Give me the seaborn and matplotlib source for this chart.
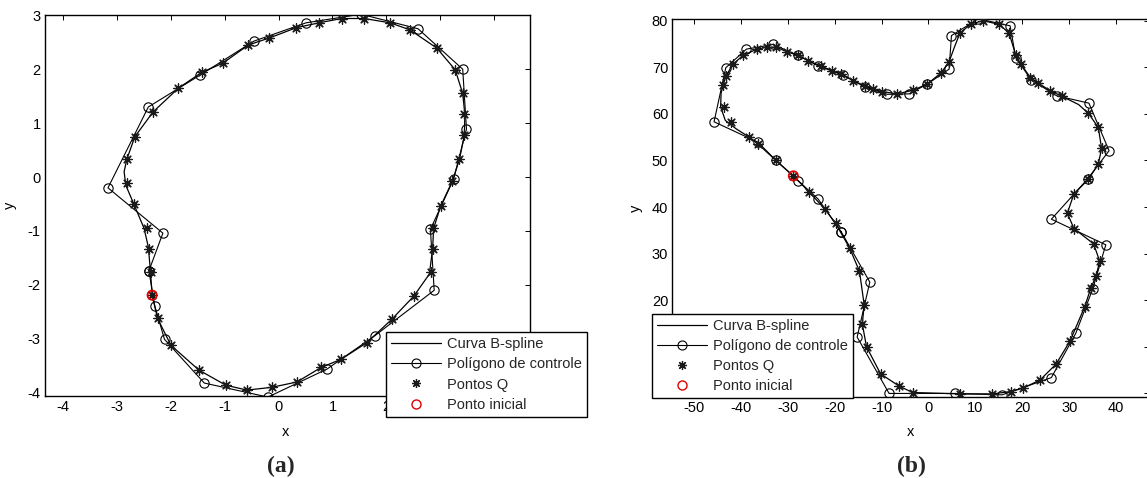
import numpy as np
import pandas as pd
import matplotlib
matplotlib.use("Agg")
import matplotlib.pyplot as plt
from matplotlib.lines import Line2D
import seaborn as sns

# ---------------- data: panel (a) ----------------
a_ctrl_x = [-2.41, -2.15, -3.17, -2.42, -1.46, -0.46, 0.51, 1.53, 2.59, 3.42, 3.49, 3.25,
            2.82, 2.89, 1.79, 0.90, -0.20, -1.38, -2.12, -2.30]
a_ctrl_y = [-1.74, -1.04, -0.20, 1.30, 1.89, 2.52, 2.86, 3.02, 2.75, 2.00, 0.89, -0.04,
            -0.97, -2.10, -2.94, -3.56, -4.08, -3.82, -3.01, -2.39]

a_q_x = [-2.35, -2.38, -2.40, -2.44, -2.69, -2.82, -2.82, -2.67, -2.33, -1.86, -1.43, -1.04,
         -0.56, -0.17, 0.33, 0.75, 1.17, 1.59, 2.07, 2.44, 2.94, 3.28, 3.42, 3.45, 3.45,
         3.36, 3.23, 3.01, 2.87, 2.87, 2.83, 2.51, 2.10, 1.64, 1.16, 0.79, 0.34, -0.13,
         -0.59, -0.98, -1.48, -2.00, -2.25]
a_q_y = [-2.19, -1.76, -1.34, -0.95, -0.50, -0.11, 0.33, 0.75, 1.21, 1.65, 1.94, 2.11,
         2.45, 2.58, 2.77, 2.86, 2.94, 2.94, 2.86, 2.73, 2.39, 1.99, 1.55, 1.16, 0.78,
         0.33, -0.07, -0.54, -0.95, -1.34, -1.76, -2.21, -2.64, -3.07, -3.38, -3.53,
         -3.80, -3.90, -3.95, -3.86, -3.58, -3.12, -2.62]

a_curve_x = [-2.35, -2.38, -2.42, -2.50, -2.69, -2.84, -2.87, -2.82, -2.67, -2.33, -1.86,
             -1.43, -1.04, -0.56, -0.17, 0.33, 0.75, 1.17, 1.59, 2.07, 2.44, 2.94, 3.28,
             3.42, 3.46, 3.45, 3.36, 3.23, 3.01, 2.88, 2.86, 2.80, 2.51, 2.10, 1.64, 1.16,
             0.79, 0.34, -0.13, -0.59, -0.98, -1.48, -2.00, -2.25, -2.35]
a_curve_y = [-2.19, -1.76, -1.30, -0.95, -0.50, -0.15, 0.10, 0.33, 0.75, 1.21, 1.65, 1.94,
             2.11, 2.45, 2.58, 2.77, 2.86, 2.94, 2.94, 2.86, 2.73, 2.39, 1.99, 1.55, 1.16,
             0.78, 0.33, -0.07, -0.54, -0.95, -1.34, -1.80, -2.21, -2.64, -3.07, -3.38,
             -3.53, -3.80, -3.90, -3.95, -3.86, -3.58, -3.12, -2.62, -2.19]

a_start_x = [-2.35]
a_start_y = [-2.19]

# ---------------- data: panel (b) ----------------
b_ctrl_x = [-18.6, -23.5, -27.8, -32.5, -36.3, -45.7, -43.2, -38.8, -33.1, -27.9, -23.5,
            -18.2, -13.6, -8.8, -4.1, -0.25, 4.4, 4.9, 10.6, 17.4, 18.6, 21.9, 27.3, 34.2,
            38.5, 33.9, 26.2, 37.8, 35.0, 31.4, 26.2, 15.7, 5.6, -8.4, -15.2, -12.5]
b_ctrl_y = [34.7, 41.7, 45.7, 50.0, 53.9, 58.3, 69.9, 73.9, 74.9, 72.6, 70.3,
            68.3, 65.8, 64.2, 64.3, 66.4, 69.6, 76.8, 80.4, 78.9, 72.1, 67.3, 63.9, 62.3,
            52.1, 46.0, 37.4, 31.9, 22.4, 12.9, 3.4, -0.3, 0.0, 0.0, 12.1, 23.9]

b_q_x = [-28.8, -32.5, -36.3, -38.2, -42.1, -43.6, -43.75, -43.2, -41.7, -39.5, -36.5,
         -34.5, -32.4, -30.1, -27.9, -25.6, -23.0, -20.6, -18.55, -16.0, -13.5, -11.8,
         -10.0, -6.6, -3.2, -0.25, 2.7, 4.4, 6.7, 9.0, 11.7, 15.1, 17.2, 18.6, 19.7, 21.7,
         23.4, 25.9, 28.4, 34.1, 36.2, 36.9, 36.2, 34.1, 31.0, 29.8, 31.0, 35.2, 36.5,
         35.7, 34.6, 33.3, 30.2, 27.2, 23.8, 20.1, 17.5, 13.6, 6.7, -3.4, -6.3, -10.2,
         -13.2, -14.1, -13.7, -14.7, -16.8, -19.8, -22.1, -25.4]
b_q_y = [46.7, 50.0, 53.5, 55.0, 58.3, 61.4, 66.2, 68.1, 70.6, 72.6, 73.9,
         74.3, 74.3, 73.3, 72.6, 71.4, 70.3, 69.3, 68.6, 67.1, 66.0, 65.3,
         64.8, 64.3, 65.1, 66.4, 68.8, 71.2, 77.3, 79.3, 80.0, 79.2, 77.3, 72.6, 70.7, 67.8,
         66.6, 65.0, 63.8, 60.1, 57.1, 52.6, 49.2, 46.0, 42.8, 38.7, 35.4, 32.1, 28.4,
         25.1, 22.6, 18.6, 11.3, 6.3, 2.9, 1.1, 0.4, -0.1, -0.1, 0.2, 1.6, 4.2,
         10.0, 14.9, 19.0, 26.2, 31.2, 36.5, 39.6, 43.2]

b_curve_x = [-28.8, -32.5, -36.3, -38.2, -41.0, -43.3, -44.3, -44.2, -43.2, -41.7, -39.5,
             -36.5, -34.5, -32.4, -30.1, -27.9, -25.6, -23.0, -20.6, -18.55, -16.0, -13.5,
             -11.8, -10.0, -6.6, -3.2, -0.25, 2.7, 4.4, 5.6, 6.7, 9.0, 11.7, 15.1, 17.2,
             18.6, 19.7, 21.7, 23.4, 25.9, 28.4, 32.0, 34.1, 36.2, 36.9, 36.2, 34.1, 31.0,
             29.6, 31.0, 35.2, 36.5, 35.7, 34.6, 33.3, 30.2, 27.2, 23.8, 20.1, 17.5, 13.6,
             6.7, -3.4, -6.3, -10.2, -13.2, -14.1, -13.7, -14.7, -16.8, -19.8, -22.1, -25.4,
             -28.8]
b_curve_y = [46.7, 50.0, 53.5, 55.0, 56.8, 58.6, 61.5, 64.5, 68.1, 70.6, 72.6,
             73.9, 74.3, 74.3, 73.3, 72.6, 71.4, 70.3, 69.3, 68.6, 67.1, 66.0,
             65.3, 64.8, 64.3, 65.1, 66.4, 68.8, 71.2, 74.5, 77.3, 79.3, 80.0, 79.2, 77.3,
             72.6, 70.7, 67.8, 66.6, 65.0, 63.8, 62.0, 60.1, 57.1, 52.6, 49.2, 46.0, 42.8,
             38.7, 35.4, 32.1, 28.4, 25.1, 22.6, 18.6, 11.3, 6.3, 2.9, 1.1, 0.4, -0.1,
             -0.1, 0.2, 1.6, 4.2, 10.0, 14.9, 19.0, 26.2, 31.2, 36.5, 39.6, 43.2,
             46.7]

b_start_x = [-28.8]
b_start_y = [46.7]

a_xticks = [-4, -3, -2, -1, 0, 1, 2, 3, 4]
a_xticklabels = ["-4", "-3", "-2", "-1", "0", "1", "2", "", ""]   # 3, 4 hidden by legend
a_yticks = [-4, -3, -2, -1, 0, 1, 2, 3]
a_yticklabels = ["-4", "-3", "-2", "-1", "0", "1", "2", "3"]
b_xticks = [-50, -40, -30, -20, -10, 0, 10, 20, 30, 40]
b_xticklabels = ["-50", "-40", "-30", "-20", "-10", "0", "10", "20", "30", "40"]
b_yticks = [0, 10, 20, 30, 40, 50, 60, 70, 80]
b_yticklabels = ["", "", "20", "30", "40", "50", "60", "70", "80"]  # 0, 10 hidden by legend

legend_labels = ["Curva B-spline", "Polígono de controle", "Pontos Q", "Ponto inicial"]
panel_labels = ["(a)", "(b)"]

# ---------------- style ----------------
sns.set_theme(style="white")
plt.rcParams["font.family"] = ["Liberation Sans", "DejaVu Sans"]
plt.rcParams["axes.unicode_minus"] = False
plt.rcParams["axes.edgecolor"] = "black"
plt.rcParams["axes.linewidth"] = 1.0

W, H = 1147, 478
fig = plt.figure(figsize=(W / 100, H / 100), dpi=100)

def px_axes(l, t, r, b):
    return fig.add_axes([l / W, 1 - b / H, (r - l) / W, (b - t) / H])

ax_a = px_axes(45, 15, 530, 396)
ax_b = px_axes(672.3, 19.3, 1148.5, 396.7)

AST = (8, 2, 0)
FS = 10.5

def draw(ax, cx, cy, qx, qy, kx, ky, sx, sy):
    curve = pd.DataFrame({"x": kx, "y": ky})
    ctrl = pd.DataFrame({"x": list(cx) + [cx[0]], "y": list(cy) + [cy[0]]})
    sns.lineplot(data=curve, x="x", y="y", sort=False, estimator=None, ax=ax,
                 color="black", linewidth=0.9, zorder=3)
    sns.lineplot(data=ctrl, x="x", y="y", sort=False, estimator=None, ax=ax,
                 color="black", linewidth=0.8, marker="o", markersize=6.7,
                 markerfacecolor="none", markeredgecolor="black", markeredgewidth=0.8,
                 zorder=2)
    sns.scatterplot(x=qx, y=qy, ax=ax, marker=AST, s=46, color="#1a1a1a",
                    linewidth=0.9, zorder=4)
    sns.scatterplot(x=sx, y=sy, ax=ax, marker="o", s=44, facecolor="none",
                    edgecolor="#e00000", linewidth=1.3, zorder=5)

draw(ax_a, a_ctrl_x, a_ctrl_y, a_q_x, a_q_y, a_curve_x, a_curve_y, a_start_x, a_start_y)
draw(ax_b, b_ctrl_x, b_ctrl_y, b_q_x, b_q_y, b_curve_x, b_curve_y, b_start_x, b_start_y)

ax_a.set_xlim(-4.34, 4.67)
ax_a.set_ylim(-4.06, 3.005)
ax_b.set_xlim(-54.6, 46.9)
ax_b.set_ylim(-0.7, 80.3)
ax_a.set_xticks(a_xticks, a_xticklabels)
ax_a.set_yticks(a_yticks, a_yticklabels)
ax_b.set_xticks(b_xticks, b_xticklabels)
ax_b.set_yticks(b_yticks, b_yticklabels)

handles = [
    Line2D([], [], color="black", linewidth=0.9),
    Line2D([], [], color="black", linewidth=0.8, marker="o", markersize=6.5,
           markerfacecolor="none", markeredgecolor="black", markeredgewidth=0.8),
    Line2D([], [], color="#1a1a1a", linestyle="none", marker=AST, markersize=6.5,
           markeredgewidth=0.9),
    Line2D([], [], color="#e00000", linestyle="none", marker="o", markersize=6.5,
           markerfacecolor="none", markeredgewidth=1.0),
]

for ax, (xl_x, yl_x), (lg_l, lg_t) in [
    (ax_a, (0.495, -0.057), (386, 332.3)),
    (ax_b, (0.501, -0.062), (652.3, 314)),
]:
    ax.tick_params(direction="in", length=3.5, width=0.7, top=True, right=True,
                   labelsize=FS, colors="black", pad=3)
    for s in ax.spines.values():
        s.set_linewidth(1.0)
        s.set_color("black")
    ax.set_xlabel("x", fontsize=FS, color="black")
    ax.set_ylabel("y", fontsize=FS, color="black")
    ax.xaxis.set_label_coords(xl_x, -0.076)
    ax.yaxis.set_label_coords(yl_x, 0.5)
    leg = ax.legend(handles, legend_labels, loc="upper left",
                    bbox_to_anchor=(lg_l / W, 1 - lg_t / H), bbox_transform=fig.transFigure,
                    borderaxespad=0, fontsize=FS, frameon=True, fancybox=False,
                    framealpha=1, edgecolor="black", handlelength=3.4, handletextpad=0.45,
                    labelspacing=0.42, borderpad=0.34)
    leg.get_frame().set_linewidth(1.0)
    leg.set_zorder(10)

fig.text(281 / W, 1 - 466 / H, panel_labels[0], ha="center", va="center",
         fontsize=17, fontweight="bold", family=["Liberation Serif", "DejaVu Serif"])
fig.text(911 / W, 1 - 466 / H, panel_labels[1], ha="center", va="center",
         fontsize=17, fontweight="bold", family=["Liberation Serif", "DejaVu Serif"])

fig.savefig("out.png", dpi=100)
